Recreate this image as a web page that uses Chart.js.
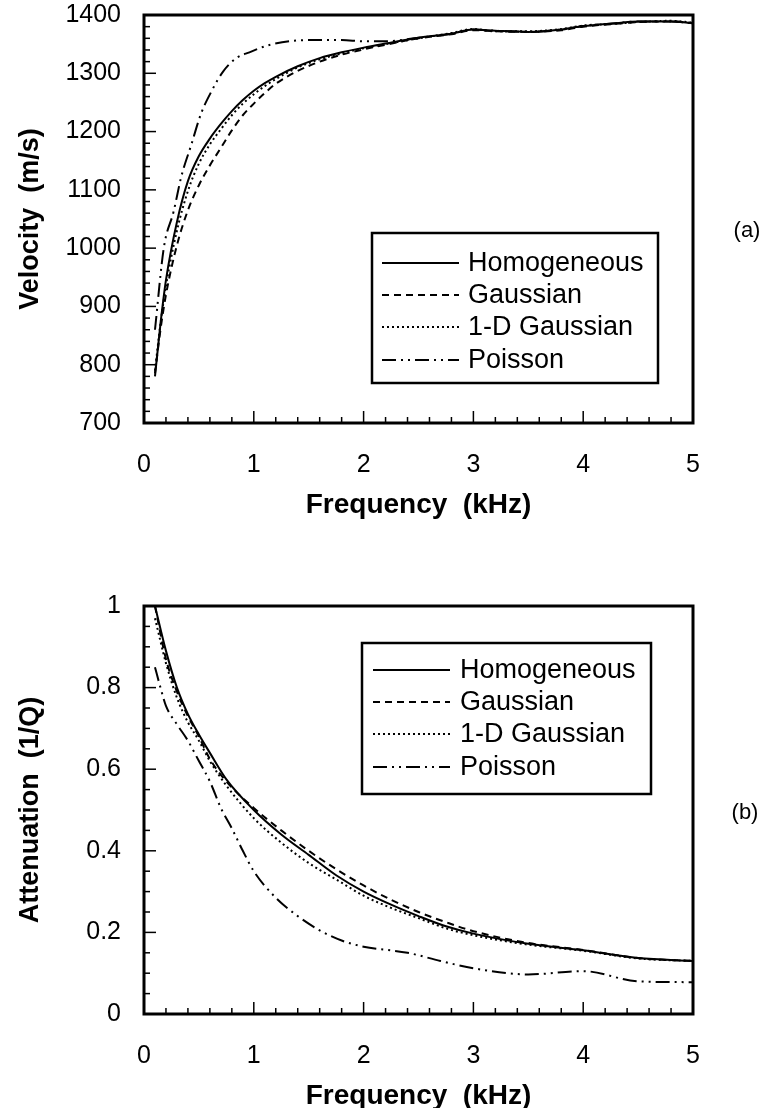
<!DOCTYPE html>
<html>
<head>
<meta charset="utf-8">
<script src="https://cdn.jsdelivr.net/npm/chart.js@4.4.1/dist/chart.umd.min.js"></script>
<style>
  body { margin: 0; background: #fff; }
  #page { position: relative; width: 767px; height: 1108px; overflow: hidden; font-family: "Liberation Sans", Arial, sans-serif; }
  .panel { position: absolute; left: 0; width: 767px; height: 530px; }
  .tag { position: absolute; font-size: 22px; color: #000; transform: translate(-50%, -50%); }
</style>
</head>
<body>
<div id="page">
  <div class="panel" style="top:0"><canvas id="velocity" width="767" height="530"></canvas></div>
  <div class="panel" style="top:591px"><canvas id="attenuation" width="767" height="530"></canvas></div>
  <div class="tag" style="left:747px;top:230px">(a)</div>
  <div class="tag" style="left:745px;top:812px">(b)</div>
</div>
<script>
const seriesNames = ['Homogeneous', 'Gaussian', '1-D Gaussian', 'Poisson'];

// (a) velocity (m/s) vs frequency (kHz)
const velHomX = [0.1, 0.15, 0.2, 0.3, 0.4, 0.5, 0.6, 0.7, 0.8, 0.9, 1.0, 1.1, 1.2, 1.4, 1.6, 1.8, 2.0, 2.2, 2.5, 2.8, 3.0, 3.2, 3.5, 3.8, 4.0, 4.3, 4.5, 4.8, 5.0];
const velHom  = [780, 870, 945, 1045, 1115, 1158, 1188, 1213, 1235, 1254, 1270, 1283, 1294, 1312, 1326, 1336, 1344, 1351, 1361, 1368, 1375, 1373, 1371, 1375, 1381, 1386, 1389, 1389, 1386];
const velGauX = [0.1, 0.15, 0.2, 0.3, 0.4, 0.5, 0.6, 0.7, 0.8, 0.9, 1.0, 1.1, 1.2, 1.4, 1.6, 1.8, 2.0, 2.2, 2.5, 2.8, 3.0, 3.2, 3.5, 3.8, 4.0, 4.3, 4.5, 4.8, 5.0];
const velGau  = [785, 860, 920, 1005, 1065, 1108, 1142, 1172, 1202, 1228, 1248, 1266, 1282, 1304, 1320, 1332, 1341, 1349, 1360, 1367, 1374, 1372, 1371, 1374, 1380, 1385, 1388, 1389, 1386];
const vel1dX  = [0.1, 0.15, 0.2, 0.3, 0.4, 0.5, 0.6, 0.7, 0.8, 0.9, 1.0, 1.1, 1.2, 1.4, 1.6, 1.8, 2.0, 2.2, 2.5, 2.8, 3.0, 3.2, 3.5, 3.8, 4.0, 4.3, 4.5, 4.8, 5.0];
const vel1d   = [790, 870, 935, 1030, 1098, 1145, 1178, 1204, 1228, 1248, 1264, 1278, 1290, 1310, 1324, 1334, 1343, 1350, 1360, 1369, 1376, 1372, 1372, 1376, 1382, 1385, 1388, 1390, 1387];
const velPoiX = [0.1, 0.18, 0.27, 0.34, 0.43, 0.52, 0.62, 0.72, 0.84, 0.96, 1.15, 1.5, 1.8, 2.0, 2.2, 2.5, 2.8, 3.0, 3.2, 3.5, 3.8, 4.0, 4.3, 4.5, 4.8, 5.0];
const velPoi  = [860, 1000, 1063, 1123, 1177, 1231, 1271, 1303, 1326, 1336, 1349, 1357, 1357, 1355, 1355, 1361, 1368, 1375, 1373, 1371, 1375, 1381, 1386, 1389, 1389, 1386];

// (b) attenuation (1/Q) vs frequency (kHz)
const attX    = [0.1, 0.2, 0.3, 0.4, 0.5, 0.6, 0.75, 1.0, 1.25, 1.5, 1.75, 2.0, 2.25, 2.5, 2.75, 3.0, 3.5, 4.0, 4.5, 5.0];
const attHom  = [1.0, 0.89, 0.80, 0.735, 0.685, 0.64, 0.575, 0.50, 0.44, 0.39, 0.34, 0.30, 0.268, 0.24, 0.215, 0.197, 0.172, 0.156, 0.137, 0.13];
const attGau  = [1.0, 0.87, 0.79, 0.73, 0.68, 0.625, 0.57, 0.505, 0.45, 0.40, 0.355, 0.315, 0.28, 0.25, 0.225, 0.203, 0.174, 0.157, 0.137, 0.13];
const att1d   = [0.97, 0.86, 0.775, 0.715, 0.67, 0.62, 0.56, 0.48, 0.42, 0.37, 0.33, 0.29, 0.26, 0.235, 0.21, 0.193, 0.17, 0.155, 0.136, 0.13];
const attPoiX = [0.1, 0.15, 0.2, 0.3, 0.4, 0.5, 0.6, 0.7, 0.8, 0.9, 1.0, 1.2, 1.4, 1.6, 1.8, 2.0, 2.4, 2.7, 3.0, 3.5, 4.0, 4.5, 5.0];
const attPoi  = [0.85, 0.80, 0.755, 0.71, 0.67, 0.62, 0.57, 0.505, 0.455, 0.40, 0.35, 0.285, 0.24, 0.205, 0.18, 0.165, 0.15, 0.13, 0.112, 0.097, 0.105, 0.08, 0.078];

const xTickLabels = ['0', '1', '2', '3', '4', '5'];

const FONT = '"Liberation Sans", Arial, sans-serif';
const dashes = [[], [7, 5], [2, 3], [14, 5, 2, 5, 2, 5]];

const pts = (xs, ys) => xs.map((x, i) => ({x: x, y: ys[i]}));
const near = (v, step) => Math.abs(v / step - Math.round(v / step)) < 1e-6;

function makeSets(list) {
  return list.map((d, i) => ({
    label: seriesNames[i],
    data: d,
    borderColor: '#000',
    borderWidth: 2,
    borderDash: dashes[i],
    pointRadius: 0,
    fill: false,
    cubicInterpolationMode: 'monotone'
  }));
}

// frame + inward tick marks (major long, minor short)
const framePlugin = {
  id: 'frame',
  afterDatasetsDraw(chart, args, o) {
    const ctx = chart.ctx, a = chart.chartArea;
    const xs = chart.scales.x, ys = chart.scales.y;
    ctx.save();
    ctx.strokeStyle = '#000';
    ctx.lineWidth = 1.5;
    xs.ticks.forEach(t => {
      const px = xs.getPixelForValue(t.value);
      const len = near(t.value, 1) ? 12 : 6;
      ctx.beginPath(); ctx.moveTo(px, a.bottom); ctx.lineTo(px, a.bottom - len); ctx.stroke();
    });
    ys.ticks.forEach(t => {
      const py = ys.getPixelForValue(t.value);
      const len = near(t.value, o.yMajor) ? 12 : 6;
      ctx.beginPath(); ctx.moveTo(a.left, py); ctx.lineTo(a.left + len, py); ctx.stroke();
    });
    ctx.lineWidth = 3;
    ctx.strokeRect(a.left, a.top, a.right - a.left, a.bottom - a.top);
    ctx.restore();
  }
};

// boxed legend with line samples taken from the datasets
const boxLegend = {
  id: 'boxLegend',
  afterDraw(chart, args, o) {
    const ctx = chart.ctx;
    ctx.save();
    ctx.fillStyle = '#fff';
    ctx.fillRect(o.left, o.top, o.right - o.left, o.bottom - o.top);
    ctx.strokeStyle = '#000';
    ctx.lineWidth = 2.5;
    ctx.strokeRect(o.left, o.top, o.right - o.left, o.bottom - o.top);
    ctx.font = '27px ' + FONT;
    ctx.textBaseline = 'middle';
    ctx.fillStyle = '#000';
    chart.data.datasets.forEach((ds, i) => {
      const y = o.rows[i];
      ctx.lineWidth = 2;
      ctx.setLineDash(ds.borderDash);
      ctx.beginPath(); ctx.moveTo(o.lineX0, y); ctx.lineTo(o.lineX1, y); ctx.stroke();
      ctx.setLineDash([]);
      ctx.fillText(ds.label, o.textX, y + 1);
    });
    ctx.restore();
  }
};

function makeOpts(yMin, yMax, yStep, yMajor, yTitle, legendBox) {
  return {
    responsive: false,
    animation: false,
    events: [],
    layout: {padding: {top: 15, right: 74, left: 0, bottom: 0}},
    scales: {
      x: {
        type: 'linear', min: 0, max: 5,
        afterFit: s => { s.height = 107; },
        border: {display: false},
        grid: {display: false},
        ticks: {
          stepSize: 0.2, autoSkip: false, maxRotation: 0, padding: 19, color: '#000',
          font: {size: 25, family: FONT},
          callback: v => near(v, 1) ? xTickLabels[Math.round(v)] : ''
        },
        title: {display: true, text: 'Frequency  (kHz)', color: '#000',
          font: {size: 28, weight: 'bold', family: FONT}, padding: {top: 0, bottom: 8}}
      },
      y: {
        min: yMin, max: yMax,
        // fixed axis width; drop the label overhang so the plot keeps its own top
        afterFit: s => { s.width = 144; s.paddingTop = 0; s.paddingBottom = 0; },
        border: {display: false},
        grid: {display: false},
        ticks: {
          stepSize: yStep, autoSkip: false, padding: 15, color: '#000',
          font: {size: 25, family: FONT},
          callback: v => near(v, yMajor) ? String(+v.toFixed(2)) : ''
        },
        title: {display: true, text: yTitle, color: '#000',
          font: {size: 27, weight: 'bold', family: FONT}, padding: {top: 14, bottom: 0}}
      }
    },
    plugins: {
      legend: {display: false},
      tooltip: {enabled: false},
      frame: {yMajor: yMajor},
      boxLegend: legendBox
    }
  };
}

new Chart(document.getElementById('velocity'), {
  type: 'line',
  data: {datasets: makeSets([pts(velHomX, velHom), pts(velGauX, velGau), pts(vel1dX, vel1d), pts(velPoiX, velPoi)])},
  options: makeOpts(700, 1400, 20, 100, 'Velocity  (m/s)',
    {left: 372, top: 233, right: 658, bottom: 383, rows: [263, 295, 327, 360], lineX0: 382, lineX1: 459, textX: 468}),
  plugins: [framePlugin, boxLegend]
});

new Chart(document.getElementById('attenuation'), {
  type: 'line',
  data: {datasets: makeSets([pts(attX, attHom), pts(attX, attGau), pts(attX, att1d), pts(attPoiX, attPoi)])},
  options: makeOpts(0, 1, 0.05, 0.2, 'Attenuation  (1/Q)',
    {left: 362, top: 52, right: 651, bottom: 203, rows: [79, 111, 143, 176], lineX0: 373, lineX1: 450, textX: 460}),
  plugins: [framePlugin, boxLegend]
});
</script>
</body>
</html>
